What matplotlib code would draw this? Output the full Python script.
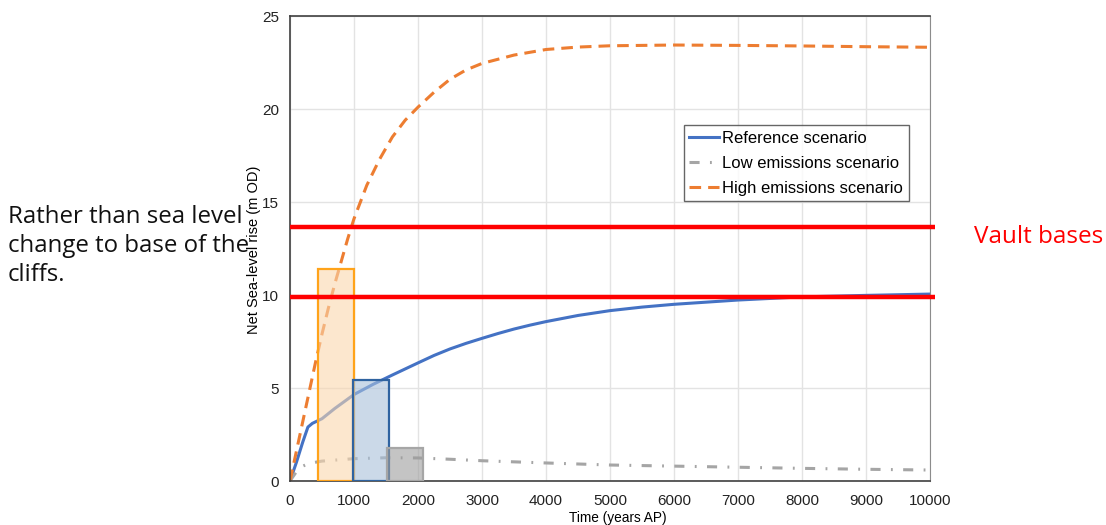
import matplotlib
matplotlib.use("Agg")
import matplotlib.pyplot as plt

# Sea-level projections (years AP -> metres OD)
ref_years = [0, 100, 200, 280, 350, 500, 700, 1000, 1300, 1600, 2000, 2250,
             2500, 2750, 3000, 3250, 3500, 3750, 4000, 4500, 5000, 5500,
             6000, 7000, 8000, 9000, 10000]
ref_rise = [0, 1.0, 2.1, 2.9, 3.1, 3.35, 3.9, 4.65, 5.2, 5.7, 6.35, 6.75,
            7.1, 7.4, 7.67, 7.93, 8.17, 8.38, 8.57, 8.9, 9.16, 9.35,
            9.5, 9.73, 9.9, 9.98, 10.05]

low_years = [0, 100, 200, 300, 500, 800, 1000, 1500, 2000, 2500, 3000,
             4000, 5000, 6000, 7000, 8000, 9000, 10000]
low_rise = [0, 0.5, 0.8, 0.95, 1.07, 1.15, 1.2, 1.25, 1.24, 1.17, 1.09,
            0.97, 0.86, 0.8, 0.74, 0.68, 0.63, 0.59]

high_years = [0, 100, 200, 300, 400, 500, 600, 700, 800, 900, 1000, 1200,
              1400, 1600, 1800, 2000, 2250, 2500, 2750, 3000, 3500, 4000,
              4500, 5000, 6000, 7000, 8000, 9000, 10000]
high_rise = [0, 1.6, 3.2, 4.8, 6.4, 7.9, 9.3, 10.6, 11.8, 13.0, 14.1, 15.9,
             17.3, 18.5, 19.4, 20.1, 20.9, 21.6, 22.1, 22.45, 22.9, 23.2,
             23.33, 23.4, 23.44, 23.42, 23.39, 23.35, 23.32]

# Highlighted time windows
box_start = [433, 990, 1520]
box_end = [1000, 1547, 2083]
box_top = [11.4, 5.45, 1.76]
box_edge = ["#FFA31A", "#2F63A0", "#A6A6A6"]
box_fill = ["#FAD7AE", "#A9C1DA", "#9E9E9E"]

# Vault base levels
vault_levels = [13.65, 9.9]

fig = plt.figure(figsize=(11.06, 5.25), dpi=100)
ax = fig.add_axes([0.2622, 0.0838, 0.5787, 0.8857])

ax.plot(ref_years, ref_rise, color="#4472C4", lw=2.2, label="Reference scenario")
ax.plot(low_years, low_rise, color="#A5A5A5", lw=2.2, dashes=(3.3, 3.4, 0.6, 3.4),
        label="Low emissions scenario")
ax.plot(high_years, high_rise, color="#ED7D31", lw=2.2, dashes=(3.8, 2.3),
        label="High emissions scenario")

for x0, x1, h, ec, fc in zip(box_start, box_end, box_top, box_edge, box_fill):
    ax.bar(x0, h, width=x1 - x0, align="edge", facecolor=fc, alpha=0.6,
           edgecolor="none", zorder=3)
    ax.bar(x0, h, width=x1 - x0, align="edge", facecolor="none",
           edgecolor=ec, lw=1.6, zorder=3)

ax.hlines(vault_levels, 0, 10080, color="#FF0000", lw=3.2, clip_on=False, zorder=4)

ax.set_xlim(0, 10000)
ax.set_ylim(0, 25)
ax.set_xticks(range(0, 10001, 1000))
ax.set_yticks(range(0, 26, 5))
ax.grid(True, color="#E3E3E3", lw=1)
ax.set_axisbelow(True)
ax.tick_params(length=0, labelsize=11)
for lab in ax.get_xticklabels() + ax.get_yticklabels():
    lab.set_family("Liberation Sans")
    lab.set_color("#222222")
ax.tick_params(axis="x", pad=9)
ax.tick_params(axis="y", pad=8)
for side in ["left", "bottom", "top"]:
    ax.spines[side].set_color("#404040")
    ax.spines[side].set_linewidth(1.2)
ax.spines["right"].set_color("#8C8C8C")

ax.set_xlabel("Time (years AP)", family="Liberation Sans", fontsize=9.8,
              va="top")
ax.xaxis.set_label_coords(0.5125, -0.064)
ax.set_ylabel("Net Sea-level rise (m OD)", family="Liberation Sans",
              fontsize=10.5)
ax.yaxis.set_label_coords(-0.045, 0.497)

leg = ax.legend(loc="upper left", bbox_to_anchor=(0.615, 0.766),
                prop={"family": "Liberation Sans", "size": 12},
                frameon=True, fancybox=False, handlelength=1.8,
                handletextpad=0.15, borderpad=0.35, labelspacing=0.6,
                borderaxespad=0)
leg.get_frame().set_edgecolor("#404040")
leg.get_frame().set_linewidth(1.0)

fig.text(0.007, 0.531, "Rather than sea level\nchange to base of the\ncliffs.",
         family="Open Sans", fontsize=17.3, va="center", ha="left",
         linespacing=1.28, color="#111111")
fig.text(0.881, 0.549, "Vault bases", family="Open Sans", fontsize=17.5,
         color="#FF0000", va="center", ha="left")

fig.savefig("out.png", dpi=100)
